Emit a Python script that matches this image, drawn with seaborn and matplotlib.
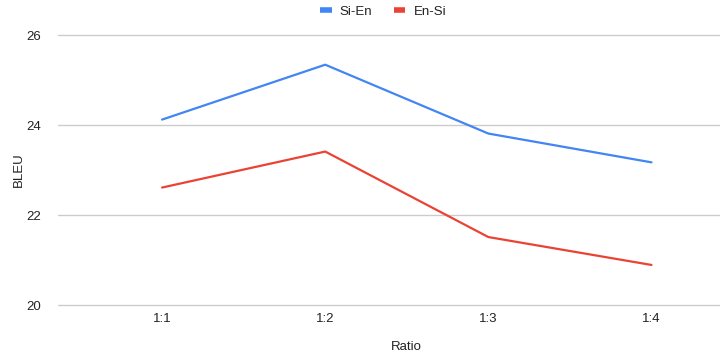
import pandas as pd
import seaborn as sns
import matplotlib.pyplot as plt

# values
ratios = ['1:1', '1:2', '1:3', '1:4']
si_en = [24.12, 25.34, 23.81, 23.17]
en_si = [22.61, 23.41, 21.51, 20.89]

df = pd.DataFrame({
    'Ratio': ratios * 2,
    'BLEU': si_en + en_si,
    'Pair': ['Si-En'] * 4 + ['En-Si'] * 4,
})

sns.set_style('white')
plt.rcParams['font.family'] = ['Liberation Sans', 'DejaVu Sans']
text_color = '#222222'

fig = plt.figure(figsize=(7.2, 3.59), dpi=100)
ax = fig.add_axes([58 / 720, 1 - 305 / 359, 1 - 58 / 720, (305 - 35) / 359])

sns.lineplot(data=df, x='Ratio', y='BLEU', hue='Pair', sort=False,
             palette={'Si-En': '#4285F4', 'En-Si': '#EA4335'},
             linewidth=1.6, ax=ax, legend=False)

ax.set_ylim(20, 26)
ax.set_yticks([20, 22, 24, 26])
ax.set_xlim(-0.638, 3.42)
ax.grid(axis='y', color='#cccccc', linewidth=1)
ax.grid(axis='x', visible=False)
for g in ax.get_ygridlines():
    g.set_clip_on(False)
for s in ax.spines.values():
    s.set_visible(False)
ax.tick_params(axis='both', length=0, labelsize=9.5, colors=text_color, pad=6)
ax.tick_params(axis='y', pad=12)

ax.set_xlabel('Ratio', fontsize=9.5, color=text_color)
ax.xaxis.set_label_coords((406 - 58) / 662, -0.133)
ax.set_ylabel('BLEU', fontsize=9.5, color=text_color)
ax.yaxis.set_label_coords(-0.050, 0.5)

handles = [plt.Line2D([], [], color='#4285F4', linewidth=4, solid_capstyle='butt'),
           plt.Line2D([], [], color='#EA4335', linewidth=4, solid_capstyle='butt')]
fig.legend(handles, ['Si-En', 'En-Si'], loc='center', bbox_to_anchor=(0.532, 0.967),
           ncol=2, frameon=False, fontsize=9.5, handlelength=0.9,
           columnspacing=1.6, handletextpad=0.6, labelcolor=text_color)

fig.savefig('out.png', dpi=100)
